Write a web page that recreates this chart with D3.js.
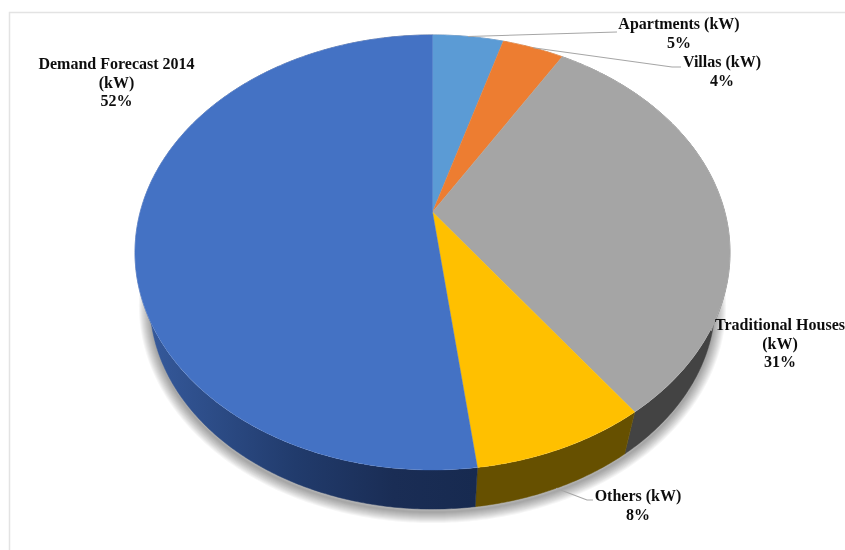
<!DOCTYPE html>
<html>
<head>
<meta charset="utf-8">
<script src="https://cdn.jsdelivr.net/npm/d3@7/dist/d3.min.js"></script>
<style>
html,body{margin:0;padding:0;background:#fff;overflow:hidden}
svg{display:block}
text{font-family:"Liberation Serif","Times New Roman",serif;font-weight:bold;font-size:16px;fill:#111;text-anchor:middle}
</style>
</head>
<body>
<svg id="chart" width="845" height="550"></svg>
<script>
// Data (shares in percent, slightly finer than the rounded labels)
const categories = ["Apartments (kW)", "Villas (kW)", "Traditional Houses (kW)", "Others (kW)", "Demand Forecast 2014 (kW)"];
const shares = [4.6, 4.0, 31.4, 8.0, 52.0];
const percentLabels = ["5%", "4%", "31%", "8%", "52%"];

// Styles
const topColors = ["#5b9bd5", "#ed7d31", "#a5a5a5", "#ffc000", "#4472c4"];
const wallColors = ["#2c4f7a", "#8a4a1c", "#434343", "#665000", "url(#blueWall)"];

// Layout of the labels (separate from the data)
const labelLayout = [
  {lines: ["Apartments (kW)"], x: 679, y: 29, lead: [[617, 32]], on: "top"},
  {lines: ["Villas (kW)"], x: 722, y: 67, lead: [[672, 67], [681, 67]], on: "top"},
  {lines: ["Traditional Houses", "(kW)"], x: 780, y: 330, fixed: [[715, 320], [711, 331]]},
  {lines: ["Others (kW)"], x: 638, y: 501, lead: [[587, 500], [593, 500]], on: "wall"},
  {lines: ["Demand Forecast 2014", "(kW)"], x: 116.5, y: 69}
];
const lineHeight = 18.5;

// Perspective geometry of the disc
const W = 845, H = 550;
const apex = {x: 432.5, y: 212};
const persp = 0.186, radX = 292.3, radY = 210;
const wallScale = 0.95, wallDrop = 52;

const svg = d3.select("#chart");
const defs = svg.append("defs");
const grad = defs.append("linearGradient").attr("id", "blueWall")
  .attr("gradientUnits", "userSpaceOnUse")
  .attr("x1", 150).attr("x2", 475).attr("y1", 0).attr("y2", 0);
grad.selectAll("stop").data([[0, "#35599b"], [0.45, "#213b6c"], [0.75, "#1a2d55"], [1, "#172a50"]])
  .join("stop").attr("offset", d => d[0]).attr("stop-color", d => d[1]);
defs.append("filter").attr("id", "soft").append("feGaussianBlur").attr("stdDeviation", 0.35);

// Frame
svg.append("path").attr("d", `M9.5,${H}V12.5H${W}`)
  .attr("fill", "none").attr("stroke", "#e3e3e3").attr("stroke-width", 1.5);

// Projection of a pie angle (0 = top, clockwise) onto the tilted disc
function projectTop(a) {
  const u = Math.sin(a), v = -Math.cos(a), d = 1 - persp * v;
  return {X: radX * u / d, Y: radY * v / d};
}
const topPt = a => { const p = projectTop(a); return [apex.x + p.X, apex.y + p.Y]; };
const wallPt = a => { const p = projectTop(a); return [apex.x + wallScale * p.X, apex.y + wallScale * p.Y + wallDrop]; };

const arcs = d3.pie().sort(null).value(d => d)(shares);
const line = d3.line();
const sample = (a0, a1) => {
  const n = Math.max(2, Math.ceil((a1 - a0) / 0.01));
  return d3.range(n + 1).map(i => a0 + (a1 - a0) * i / n);
};

// Soft shadow of the underside: stacked translucent outlines fading outwards
const shadowPath = line(sample(0, 2 * Math.PI).map(wallPt)) + "Z";
svg.append("g").attr("transform", "translate(0,3)")
  .selectAll("path").data(d3.range(1, 12)).join("path")
  .attr("d", shadowPath)
  .attr("fill", "none").attr("stroke", "#000")
  .attr("stroke-opacity", 0.034).attr("stroke-width", d => 2 * d);

// Walls, then top faces
svg.append("g").selectAll("path").data(arcs).join("path")
  .attr("d", d => {
    const s = sample(d.startAngle, d.endAngle);
    return line(s.map(topPt).concat(s.slice().reverse().map(wallPt))) + "Z";
  })
  .attr("fill", (d, i) => wallColors[i])
  .attr("stroke", (d, i) => wallColors[i]).attr("stroke-width", 0.5);

// White disc under the top faces so no shadow shows around the rim
svg.append("path")
  .attr("d", line(sample(0, 2 * Math.PI).map(topPt)) + "Z")
  .attr("fill", "#fff");

svg.append("g").selectAll("path").data(arcs).join("path")
  .attr("d", d => line([[apex.x, apex.y]].concat(sample(d.startAngle, d.endAngle).map(topPt))) + "Z")
  .attr("fill", (d, i) => topColors[i])
  .attr("stroke", (d, i) => topColors[i]).attr("stroke-width", 0.4);

// Leader lines start from the middle of their slice
svg.append("g").selectAll("path").data(arcs).join("path")
  .attr("d", (d, i) => {
    const l = labelLayout[i], mid = (d.startAngle + d.endAngle) / 2;
    if (l.fixed) return line(l.fixed);
    if (!l.lead) return null;
    return line([(l.on === "wall" ? wallPt : topPt)(mid)].concat(l.lead));
  })
  .attr("fill", "none").attr("stroke", "#a6a6a6").attr("stroke-width", 1.1);

// Labels
const labels = svg.append("g").attr("filter", "url(#soft)").selectAll("text").data(arcs).join("text")
  .attr("x", (d, i) => labelLayout[i].x).attr("y", (d, i) => labelLayout[i].y);
labels.selectAll("tspan")
  .data((d, i) => labelLayout[i].lines.concat(percentLabels[i]).map(t => ({t, x: labelLayout[i].x})))
  .join("tspan")
  .attr("x", d => d.x).attr("dy", (d, j) => j ? lineHeight : 0).text(d => d.t);
</script>
</body>
</html>
